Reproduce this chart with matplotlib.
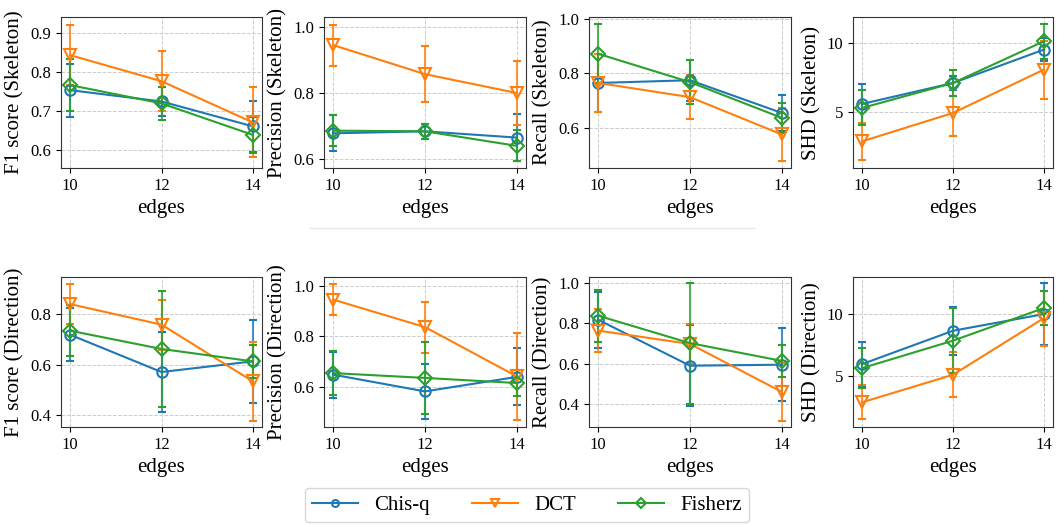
import matplotlib
matplotlib.use("Agg")
import matplotlib.pyplot as plt
from matplotlib.lines import Line2D

plt.rcParams['font.family'] = ['Liberation Serif', 'DejaVu Serif']

edges = [10, 12, 14]
methods = ["Chis-q", "DCT", "Fisherz"]

# ---- Skeleton metrics (mean, std) ----
f1_skel_chisq = [0.753, 0.724, 0.660]
f1_skel_chisq_err = [0.068, 0.037, 0.066]
f1_skel_dct = [0.843, 0.776, 0.670]
f1_skel_dct_err = [0.078, 0.077, 0.090]
f1_skel_fisherz = [0.766, 0.719, 0.638]
f1_skel_fisherz_err = [0.066, 0.042, 0.047]

prec_skel_chisq = [0.678, 0.684, 0.665]
prec_skel_chisq_err = [0.055, 0.022, 0.070]
prec_skel_dct = [0.945, 0.857, 0.800]
prec_skel_dct_err = [0.062, 0.085, 0.097]
prec_skel_fisherz = [0.686, 0.684, 0.640]
prec_skel_fisherz_err = [0.047, 0.023, 0.047]

rec_skel_chisq = [0.765, 0.775, 0.655]
rec_skel_chisq_err = [0.107, 0.075, 0.065]
rec_skel_dct = [0.765, 0.713, 0.576]
rec_skel_dct_err = [0.108, 0.080, 0.096]
rec_skel_fisherz = [0.872, 0.768, 0.637]
rec_skel_fisherz_err = [0.108, 0.082, 0.056]

shd_skel_chisq = [5.58, 7.10, 9.52]
shd_skel_chisq_err = [1.45, 0.50, 0.85]
shd_skel_dct = [2.87, 4.93, 8.07]
shd_skel_dct_err = [1.35, 1.70, 2.10]
shd_skel_fisherz = [5.29, 7.10, 10.12]
shd_skel_fisherz_err = [1.27, 0.92, 1.27]

# ---- Direction metrics (mean, std) ----
f1_dir_chisq = [0.718, 0.571, 0.613]
f1_dir_chisq_err = [0.105, 0.156, 0.163]
f1_dir_dct = [0.839, 0.758, 0.534]
f1_dir_dct_err = [0.079, 0.099, 0.155]
f1_dir_fisherz = [0.734, 0.662, 0.613]
f1_dir_fisherz_err = [0.100, 0.230, 0.066]

prec_dir_chisq = [0.650, 0.584, 0.641]
prec_dir_chisq_err = [0.090, 0.107, 0.112]
prec_dir_dct = [0.945, 0.837, 0.643]
prec_dir_dct_err = [0.062, 0.100, 0.170]
prec_dir_fisherz = [0.656, 0.637, 0.617]
prec_dir_fisherz_err = [0.085, 0.142, 0.052]

rec_dir_chisq = [0.818, 0.590, 0.595]
rec_dir_chisq_err = [0.140, 0.200, 0.180]
rec_dir_dct = [0.764, 0.698, 0.460]
rec_dir_dct_err = [0.105, 0.100, 0.143]
rec_dir_fisherz = [0.838, 0.702, 0.614]
rec_dir_fisherz_err = [0.130, 0.300, 0.078]

shd_dir_chisq = [5.98, 8.64, 9.97]
shd_dir_chisq_err = [1.80, 1.90, 2.50]
shd_dir_dct = [2.93, 5.13, 9.65]
shd_dir_dct_err = [1.35, 1.80, 2.20]
shd_dir_fisherz = [5.66, 7.85, 10.45]
shd_dir_fisherz_err = [1.60, 2.60, 1.33]

ylabels = ["F1 score (Skeleton)", "Precision (Skeleton)", "Recall (Skeleton)", "SHD (Skeleton)",
           "F1 score (Direction)", "Precision (Direction)", "Recall (Direction)", "SHD (Direction)"]

panels = [
    ((f1_skel_chisq, f1_skel_chisq_err), (f1_skel_dct, f1_skel_dct_err), (f1_skel_fisherz, f1_skel_fisherz_err)),
    ((prec_skel_chisq, prec_skel_chisq_err), (prec_skel_dct, prec_skel_dct_err), (prec_skel_fisherz, prec_skel_fisherz_err)),
    ((rec_skel_chisq, rec_skel_chisq_err), (rec_skel_dct, rec_skel_dct_err), (rec_skel_fisherz, rec_skel_fisherz_err)),
    ((shd_skel_chisq, shd_skel_chisq_err), (shd_skel_dct, shd_skel_dct_err), (shd_skel_fisherz, shd_skel_fisherz_err)),
    ((f1_dir_chisq, f1_dir_chisq_err), (f1_dir_dct, f1_dir_dct_err), (f1_dir_fisherz, f1_dir_fisherz_err)),
    ((prec_dir_chisq, prec_dir_chisq_err), (prec_dir_dct, prec_dir_dct_err), (prec_dir_fisherz, prec_dir_fisherz_err)),
    ((rec_dir_chisq, rec_dir_chisq_err), (rec_dir_dct, rec_dir_dct_err), (rec_dir_fisherz, rec_dir_fisherz_err)),
    ((shd_dir_chisq, shd_dir_chisq_err), (shd_dir_dct, shd_dir_dct_err), (shd_dir_fisherz, shd_dir_fisherz_err)),
]

ylims = [(0.553, 0.941), (0.573, 1.030), (0.453, 1.007), (0.94, 11.88),
         (0.354, 0.946), (0.444, 1.034), (0.286, 1.030), (0.96, 12.93)]
yticks = [[0.6, 0.7, 0.8, 0.9], [0.6, 0.8, 1.0], [0.6, 0.8, 1.0], [5, 10],
          [0.4, 0.6, 0.8], [0.6, 0.8, 1.0], [0.4, 0.6, 0.8, 1.0], [5, 10]]

colors = ["#1f77b4", "#ff7f0e", "#2ca02c"]
markers = ["o", "v", "D"]
msizes = [7.5, 8.5, 7]
leg_msizes = [5, 6, 5]

W, H = 1058, 525
fig = plt.figure(figsize=(W / 100, H / 100), dpi=100)

lefts = [61, 324, 589, 853]
widths = [201, 202, 202, 200]
rows = [(17, 168), (277, 427)]

handles = []
for k in range(3):
    handles.append(Line2D([], [], color=colors[k], marker=markers[k],
                          markersize=leg_msizes[k], markerfacecolor='none',
                          markeredgewidth=1.5, linewidth=1.5, label=methods[k]))

for i in range(8):
    r, c = divmod(i, 4)
    top, bot = rows[r]
    ax = fig.add_axes([lefts[c] / W, 1 - bot / H, widths[c] / W, (bot - top) / H])
    for k, (vals, errs) in enumerate(panels[i]):
        eb = ax.errorbar(edges, vals, yerr=errs, color=colors[k], marker=markers[k],
                         markersize=msizes[k], markerfacecolor='none', markeredgewidth=1.5,
                         linewidth=1.5, elinewidth=1.5, capsize=3, capthick=1.5,
                         label=methods[k])
        for ln in eb[2]:
            ln.set_alpha(0.8)
    ax.set_xlim(9.8, 14.2)
    ax.set_xticks(edges)
    ax.set_ylim(*ylims[i])
    ax.set_yticks(yticks[i])
    ax.set_xlabel("edges", fontsize=15)
    ax.set_ylabel(ylabels[i], fontsize=15)
    ax.tick_params(labelsize=12)
    ax.grid(True, linestyle='--', color='#cccccc', linewidth=0.7)
    ax.set_axisbelow(True)
    for s in ax.spines.values():
        s.set_color('#333333')

fig.add_artist(Line2D([310 / W, 755 / W], [1 - 228 / H, 1 - 228 / H], color='#e8e8e8', linewidth=1))

fig.legend(handles=handles, loc='center', bbox_to_anchor=(527 / W, 1 - 505 / H), ncol=3,
           fontsize=15, frameon=True, handlelength=2.2, handletextpad=0.8,
           columnspacing=2.0, borderpad=0.35)

fig.savefig("out.png", dpi=100)
